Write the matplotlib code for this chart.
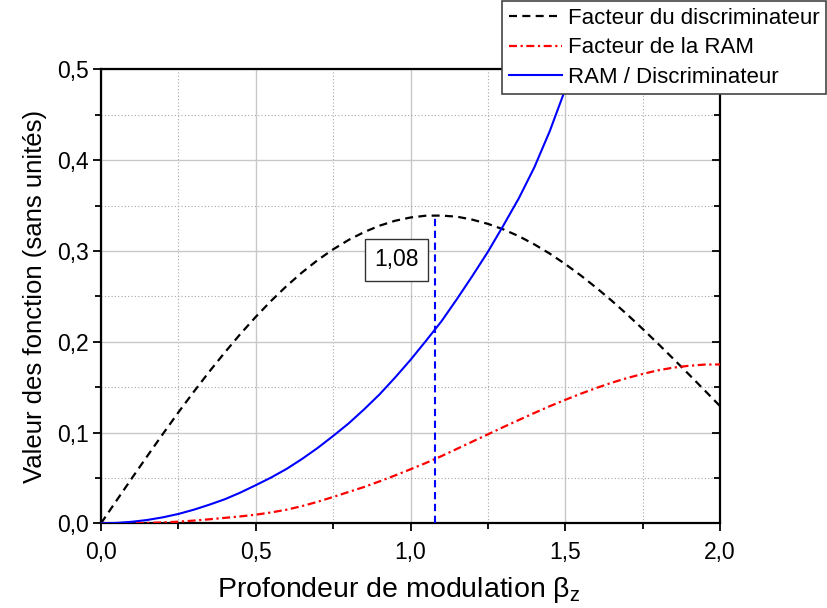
import matplotlib
matplotlib.use("Agg")
import matplotlib.pyplot as plt
from matplotlib.ticker import MultipleLocator, FuncFormatter

plt.rcParams['font.family'] = ['Liberation Sans', 'DejaVu Sans']
plt.rcParams['mathtext.fontset'] = 'custom'
plt.rcParams['mathtext.rm'] = 'Liberation Sans'
plt.rcParams['mathtext.it'] = 'Liberation Sans'

beta = [0.0, 0.05, 0.1, 0.15, 0.2, 0.25, 0.3, 0.35, 0.4, 0.45, 0.5, 0.55, 0.6, 0.65, 0.7, 0.75,
        0.8, 0.85, 0.9, 0.95, 1.0, 1.05, 1.1, 1.15, 1.2, 1.25, 1.3, 1.35, 1.4, 1.45, 1.5, 1.55,
        1.6, 1.65, 1.7, 1.75, 1.8, 1.85, 1.9, 1.95, 2.0]
discrim = [0.0, 0.0250, 0.0498, 0.0743, 0.0985, 0.1222, 0.1450, 0.1671, 0.1882, 0.2084, 0.2274,
           0.2451, 0.2615, 0.2764, 0.2899, 0.3017, 0.3121, 0.3207, 0.3278, 0.3332, 0.3368,
           0.3388, 0.3389, 0.3377, 0.3344, 0.3298, 0.3237, 0.3162, 0.3072, 0.2970, 0.2855,
           0.2730, 0.2595, 0.2452, 0.2300, 0.2141, 0.1977, 0.1809, 0.1638, 0.1465, 0.1291]
ram = [0.0, 0.0000, 0.0001, 0.0004, 0.0010, 0.0018, 0.0030, 0.0044, 0.0060, 0.0076, 0.0095,
       0.0120, 0.0150, 0.0190, 0.0237, 0.0290, 0.0345, 0.0400, 0.0462, 0.0527, 0.0595,
       0.0665, 0.0740, 0.0820, 0.0900, 0.0980, 0.1060, 0.1138, 0.1215, 0.1290, 0.1360,
       0.1427, 0.1490, 0.1548, 0.1600, 0.1645, 0.1685, 0.1715, 0.1735, 0.1748, 0.1750]
beta_ratio = [0.0, 0.05, 0.1, 0.15, 0.2, 0.25, 0.3, 0.35, 0.4, 0.45, 0.5, 0.55, 0.6, 0.65, 0.7,
              0.75, 0.8, 0.85, 0.9, 0.95, 1.0, 1.05, 1.1, 1.15, 1.2, 1.25, 1.3, 1.35, 1.4,
              1.45, 1.5, 1.55]
ratio = [0.0, 0.0004, 0.0017, 0.0037, 0.0066, 0.0103, 0.0150, 0.0205, 0.0265, 0.0338, 0.0420,
         0.0505, 0.0600, 0.0710, 0.0830, 0.0962, 0.1100, 0.1255, 0.1420, 0.1605, 0.1800,
         0.2010, 0.2225, 0.2470, 0.2725, 0.2990, 0.3280, 0.3580, 0.3920, 0.4320, 0.4780,
         0.5300]
beta_opt = 1.08
peak_val = 0.339
label_opt = "1,08"

fig = plt.figure(figsize=(8.28, 6.08), dpi=100)
ax = fig.add_axes([0.122, 0.1393, 0.7476, 0.7467])

ax.plot(beta, discrim, color='black', lw=1.6, dashes=(3.6, 2.4), label='Facteur du discriminateur', zorder=3)
ax.plot(beta, ram, color='red', lw=1.6, dashes=(3.6, 1.6, 1.0, 1.6), label='Facteur de la RAM', zorder=3)
ax.plot(beta_ratio, ratio, color='blue', lw=1.5, label='RAM / Discriminateur', zorder=3)
ax.plot([beta_opt, beta_opt], [0, peak_val], color='blue', lw=1.5, dashes=(3.5, 2.2), zorder=3)

ax.text(0.956, 0.29, label_opt, fontsize=16.5, ha='center', va='center',
        bbox=dict(boxstyle='square,pad=0.4', fc='white', ec='#333333', lw=1.0), zorder=4)

ax.set_xlim(0, 2.0)
ax.set_ylim(0, 0.5)
ax.xaxis.set_major_locator(MultipleLocator(0.5))
ax.xaxis.set_minor_locator(MultipleLocator(0.25))
ax.yaxis.set_major_locator(MultipleLocator(0.1))
ax.yaxis.set_minor_locator(MultipleLocator(0.05))
fmt = FuncFormatter(lambda v, p: f"{v:.1f}".replace('.', ','))
ax.xaxis.set_major_formatter(fmt)
ax.yaxis.set_major_formatter(fmt)

ax.grid(which='major', color='#c8c8c8', lw=1.0, ls='-', zorder=0)
ax.grid(which='minor', color='#a8a8a8', lw=0.8, ls=(0, (1, 2)), zorder=0)
ax.set_axisbelow(True)

for s in ax.spines.values():
    s.set_linewidth(1.6)
ax.tick_params(which='both', direction='out', labelsize=16.5, width=1.3, right=False, top=False)
ax.tick_params(which='major', length=6)
ax.tick_params(which='minor', length=4)
ax.tick_params(axis='x', pad=7)
ax.tick_params(axis='y', pad=3)

ax2 = ax.twinx()
ax2.set_ylim(0, 0.5)
ax2.yaxis.set_major_locator(MultipleLocator(0.1))
ax2.yaxis.set_minor_locator(MultipleLocator(0.05))
ax2.tick_params(which='both', direction='in', labelright=False, width=1.3)
ax2.tick_params(which='major', length=6)
ax2.tick_params(which='minor', length=4)
for s in ax2.spines.values():
    s.set_visible(False)

ax.set_xlabel(r'Profondeur de modulation $\beta_z$', fontsize=20.5, labelpad=8)
ax.xaxis.label.set_x(0.48)
ax.set_ylabel('Valeur des fonction (sans unités)', fontsize=18.5, labelpad=7)

h, l = ax.get_legend_handles_labels()
leg = fig.legend(h, l, loc='upper right', bbox_to_anchor=(0.998, 0.998), fontsize=16,
                 frameon=True, fancybox=False, framealpha=1, edgecolor='#444444',
                 handlelength=2.4, handletextpad=0.25, borderpad=0.3, labelspacing=0.38,
                 borderaxespad=0)
leg.get_frame().set_linewidth(1.2)
leg.set_zorder(10)

fig.savefig('out.png', dpi=100)
